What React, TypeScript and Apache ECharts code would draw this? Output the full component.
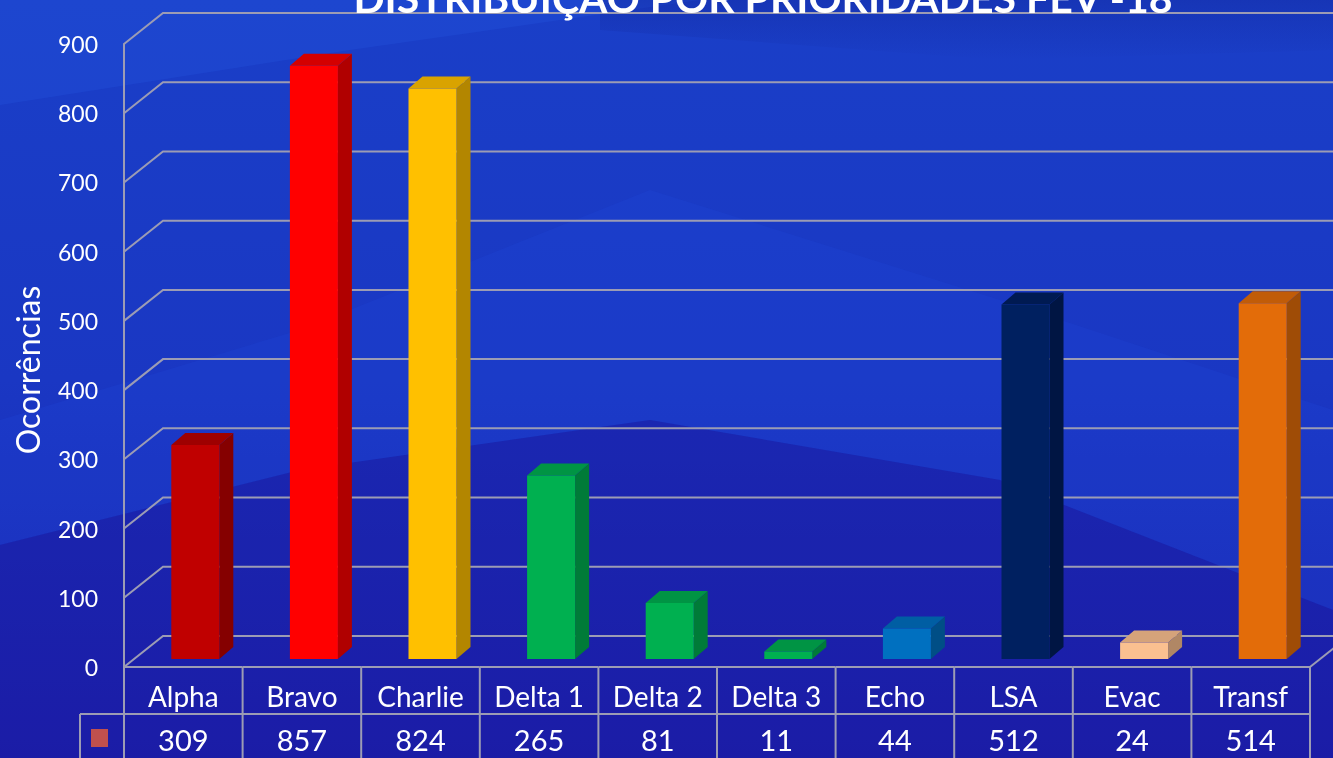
import React, { useEffect, useRef } from "react";
import * as echarts from "echarts";

const categories = ["Alpha", "Bravo", "Charlie", "Delta 1", "Delta 2", "Delta 3", "Echo", "LSA", "Evac", "Transf"];
const values = [309, 857, 824, 265, 81, 11, 44, 512, 24, 514];
const frontColors = ["#C00000", "#FF0000", "#FFC000", "#00B050", "#00B050", "#00B050", "#0070C0", "#002060", "#FAC090", "#E36C09"];
const sideColors = ["#850000", "#B00000", "#B38600", "#007B38", "#007B38", "#007B38", "#004E86", "#001543", "#B08765", "#9F4C06"];
const topColors = ["#9E0000", "#D40000", "#D9A300", "#009444", "#009444", "#009444", "#005EA3", "#001A52", "#D5A37A", "#C15C08"];
const yTicks = [0, 100, 200, 300, 400, 500, 600, 700, 800, 900];
const title = "DISTRIBUIÇÃO POR PRIORIDADES FEV -18";
const yName = "Ocorrências";

const GRID = "#9C9CB4";
const FONT = "Lato, 'Open Sans', sans-serif";

export default function App() {
  const ref = useRef<HTMLDivElement>(null);
  useEffect(() => {
    const chart = echarts.init(ref.current!, null, { renderer: "svg" });
    const W = 1333, H = 758;
    const DX = 39, DY = 31; // wall depth
    const BX = 12, BY = 8; // bar depth position
    const BW = 48, SX = 14, SY = 12;

    const option: any = {
      animation: false,
      grid: { left: 124, right: 23, top: 44, bottom: 91 },
      xAxis: {
        type: "category",
        data: categories,
        axisLine: { show: false },
        axisTick: { show: false },
        axisLabel: { show: false },
      },
      yAxis: {
        type: "value",
        min: 0,
        max: 900,
        interval: 100,
        axisLine: { show: true, lineStyle: { color: GRID, width: 2 } },
        axisTick: { show: false },
        splitLine: { show: false },
        axisLabel: { color: "#FFFFFF", fontSize: 23, fontFamily: FONT, margin: 26 },
      },
      graphic: [
        {
          type: "rect",
          z: -100,
          silent: true,
          shape: { x: 0, y: 0, width: W, height: H },
          style: {
            fill: new echarts.graphic.LinearGradient(0, 0, 0, 1, [
              { offset: 0, color: "#1a3fc8" },
              { offset: 0.5, color: "#1a37c3" },
              { offset: 1, color: "#1b24b0" },
            ]),
          },
        },
        {
          type: "polygon",
          z: -99,
          silent: true,
          shape: { points: [[0, 0], [700, 0], [350, 50], [0, 105]] },
          style: { fill: "rgba(40,95,230,0.22)" },
        },
        {
          type: "polygon",
          z: -99,
          silent: true,
          shape: { points: [[0, 420], [300, 330], [650, 190], [1000, 300], [1333, 410], [1333, 610], [1000, 480], [650, 420], [300, 470], [0, 545]] },
          style: { fill: "rgba(35,80,225,0.18)" },
        },
        {
          type: "polygon",
          z: -99,
          silent: true,
          shape: { points: [[0, 545], [300, 470], [650, 420], [1000, 480], [1333, 610], [1333, 758], [0, 758]] },
          style: { fill: "rgba(30,15,150,0.35)" },
        },
        {
          type: "polygon",
          z: -99,
          silent: true,
          shape: { points: [[600, 0], [1333, 0], [1333, 50], [1000, 60], [600, 30]] },
          style: {
            fill: new echarts.graphic.LinearGradient(0, 0, 0, 1, [
              { offset: 0, color: "rgba(15,30,140,0.3)" },
              { offset: 1, color: "rgba(15,30,140,0)" },
            ]),
          },
        },
        {
          type: "text",
          z: 50,
          x: 763,
          y: -3,
          style: {
            text: title,
            fill: "#FFFFFF",
            font: `bold 41px ${FONT}`,
            align: "center",
            verticalAlign: "middle",
          },
        },
        {
          type: "text",
          z: 50,
          x: 27,
          y: 370,
          rotation: Math.PI / 2,
          style: {
            text: yName,
            fill: "#FFFFFF",
            font: `32px ${FONT}`,
            align: "center",
            verticalAlign: "middle",
          },
        },
      ],
      series: [
        {
          type: "custom",
          name: "grid",
          silent: true,
          z: 1,
          data: yTicks.map((t) => [0, t]),
          renderItem: (params: any, api: any) => {
            const cs = params.coordSys;
            const y = api.coord([0, api.value(1)])[1];
            const pts: number[][] = [[cs.x, y], [cs.x + DX, y - DY], [W, y - DY]];
            return {
              type: "polyline",
              shape: { points: pts },
              style: { stroke: GRID, lineWidth: 2, fill: "none" },
            };
          },
        },
        {
          type: "custom",
          name: "bars",
          z: 3,
          data: values.map((v, i) => [i, v]),
          renderItem: (params: any, api: any) => {
            const i = api.value(0);
            const v = api.value(1);
            const p0 = api.coord([i, 0]);
            const p1 = api.coord([i, v]);
            const fx = p0[0] + BX - BW / 2;
            const yb = p0[1] - BY;
            const yt = p1[1] - BY;
            return {
              type: "group",
              children: [
                {
                  type: "polygon",
                  shape: { points: [[fx + BW, yt], [fx + BW + SX, yt - SY], [fx + BW + SX, yb - SY], [fx + BW, yb]] },
                  style: { fill: sideColors[i] },
                },
                {
                  type: "polygon",
                  shape: { points: [[fx, yt], [fx + BW, yt], [fx + BW + SX, yt - SY], [fx + SX, yt - SY]] },
                  style: { fill: topColors[i] },
                },
                {
                  type: "rect",
                  shape: { x: fx, y: yt, width: BW, height: yb - yt },
                  style: { fill: frontColors[i] },
                },
              ],
            };
          },
        },
        {
          type: "custom",
          name: "table",
          silent: true,
          z: 4,
          data: values.map((v, i) => [i, v]),
          renderItem: (params: any, api: any) => {
            const cs = params.coordSys;
            const i = api.value(0);
            const v = api.value(1);
            const bw = cs.width / categories.length;
            const x0 = cs.x + bw * i;
            const x1 = x0 + bw;
            const yf = cs.y + cs.height;
            const yr = yf + 47;
            const cx = (x0 + x1) / 2;
            const children: any[] = [
              { type: "line", shape: { x1: x0, y1: yf, x2: x1, y2: yf }, style: { stroke: GRID, lineWidth: 2 } },
              { type: "line", shape: { x1: x0, y1: yr, x2: x1, y2: yr }, style: { stroke: GRID, lineWidth: 2 } },
              { type: "line", shape: { x1: x1, y1: yf, x2: x1, y2: H }, style: { stroke: GRID, lineWidth: 2 } },
              {
                type: "text",
                style: { text: categories[i], x: cx, y: yf + 29, fill: "#FFFFFF", font: `28px ${FONT}`, align: "center", verticalAlign: "middle" },
              },
              {
                type: "text",
                style: { text: String(v), x: cx, y: yr + 25, fill: "#FFFFFF", font: `29px ${FONT}`, align: "center", verticalAlign: "middle" },
              },
            ];
            if (i === 0) {
              children.push(
                { type: "line", shape: { x1: x0, y1: yf, x2: x0, y2: H }, style: { stroke: GRID, lineWidth: 2 } },
                { type: "line", shape: { x1: x0 - 44, y1: yr, x2: x0, y2: yr }, style: { stroke: GRID, lineWidth: 2 } },
                { type: "line", shape: { x1: x0 - 44, y1: yr, x2: x0 - 44, y2: H }, style: { stroke: GRID, lineWidth: 2 } },
                { type: "rect", shape: { x: x0 - 33, y: yr + 15, width: 17, height: 18 }, style: { fill: "#C0504D" } }
              );
            }
            if (i === categories.length - 1) {
              children.push({ type: "line", shape: { x1: x1, y1: yf, x2: x1 + DX, y2: yf - DY }, style: { stroke: GRID, lineWidth: 2 } });
            }
            return { type: "group", children };
          },
        },
      ],
    };
    chart.setOption(option);
    return () => chart.dispose();
  }, []);
  return <div ref={ref} style={{ position: "fixed", left: 0, top: 0, width: 1333, height: 758 }} />;
}
